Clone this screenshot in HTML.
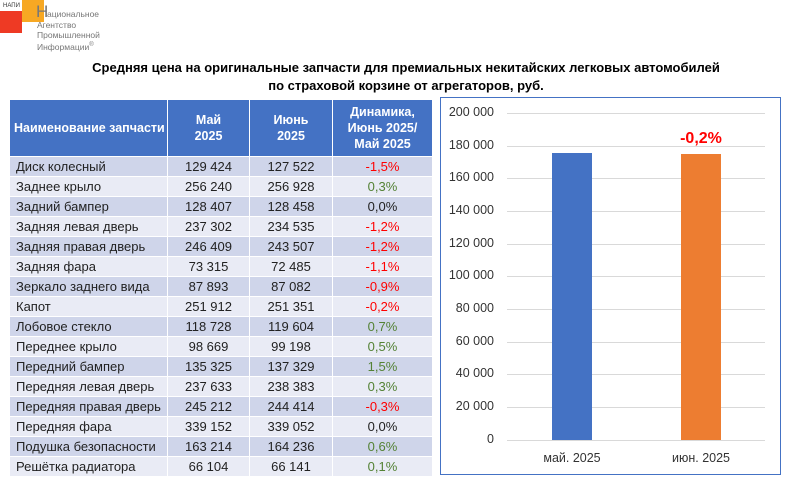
<!DOCTYPE html>
<html><head><meta charset="utf-8"><style>
body{margin:0;width:802px;height:501px;background:#fff;position:relative;overflow:hidden;font-family:"Liberation Sans","DejaVu Sans",sans-serif}
.a{position:absolute}
table{position:absolute;left:9px;top:99px;border-collapse:collapse;font-size:13px;color:#222}
td,th{border:1px solid #fff;padding:0;height:19px}
th{background:#4472c4;color:#fff;font-weight:bold;font-size:12.5px;height:56px;line-height:16px}
td{text-align:center}
td:first-child{text-align:left;padding-left:6px}
tr:nth-child(even) td{background:#cfd5ea}
tr:nth-child(odd) td{background:#e9ebf5}
.r{color:#ff0000}.g{color:#548235}
.yl{position:absolute;width:60px;text-align:right;font-size:12.5px;color:#333;left:434px}
.gl{position:absolute;left:507px;width:258px;height:1px;background:#d9d9d9}
.lg{position:absolute;font-size:8.5px;color:#777;line-height:10px;white-space:nowrap}
</style></head><body>
<div class="a" style="left:22px;top:0;width:22px;height:22px;background:#f7a823"></div>
<div class="a" style="left:0;top:11px;width:22px;height:22px;background:#ee3a24"></div>
<div class="a" style="left:3px;top:3px;font-size:6px;color:#333">НАПИ</div>
<div class="lg" style="left:36px;top:3px;font-size:17px;line-height:17px">Н</div>
<div class="lg" style="left:47px;top:9px">ациональное</div>
<div class="lg" style="left:37px;top:20px">Агентство</div>
<div class="lg" style="left:37px;top:30px">Промышленной</div>
<div class="lg" style="left:37px;top:40px">Информации<sup style="font-size:6px">®</sup></div>
<div class="a" style="left:0;width:812px;top:59px;text-align:center;font-weight:bold;font-size:13px;line-height:18px;color:#000">Средняя цена на оригинальные запчасти для премиальных некитайских легковых автомобилей<br>по страховой корзине от агрегаторов, руб.</div>
<table>
<tr><th style="text-align:left;padding-left:4px;width:153px">Наименование запчасти</th><th style="width:81px">Май<br>2025</th><th style="width:82px">Июнь<br>2025</th><th style="width:99px">Динамика,<br>Июнь 2025/<br>Май 2025</th></tr>
<tr><td>Диск колесный</td><td>129 424</td><td>127 522</td><td class="r">-1,5%</td></tr>
<tr><td>Заднее крыло</td><td>256 240</td><td>256 928</td><td class="g">0,3%</td></tr>
<tr><td>Задний бампер</td><td>128 407</td><td>128 458</td><td>0,0%</td></tr>
<tr><td>Задняя левая дверь</td><td>237 302</td><td>234 535</td><td class="r">-1,2%</td></tr>
<tr><td>Задняя правая дверь</td><td>246 409</td><td>243 507</td><td class="r">-1,2%</td></tr>
<tr><td>Задняя фара</td><td>73 315</td><td>72 485</td><td class="r">-1,1%</td></tr>
<tr><td>Зеркало заднего вида</td><td>87 893</td><td>87 082</td><td class="r">-0,9%</td></tr>
<tr><td>Капот</td><td>251 912</td><td>251 351</td><td class="r">-0,2%</td></tr>
<tr><td>Лобовое стекло</td><td>118 728</td><td>119 604</td><td class="g">0,7%</td></tr>
<tr><td>Переднее крыло</td><td>98 669</td><td>99 198</td><td class="g">0,5%</td></tr>
<tr><td>Передний бампер</td><td>135 325</td><td>137 329</td><td class="g">1,5%</td></tr>
<tr><td>Передняя левая дверь</td><td>237 633</td><td>238 383</td><td class="g">0,3%</td></tr>
<tr><td>Передняя правая дверь</td><td>245 212</td><td>244 414</td><td class="r">-0,3%</td></tr>
<tr><td>Передняя фара</td><td>339 152</td><td>339 052</td><td>0,0%</td></tr>
<tr><td>Подушка безопасности</td><td>163 214</td><td>164 236</td><td class="g">0,6%</td></tr>
<tr><td>Решётка радиатора</td><td>66 104</td><td>66 141</td><td class="g">0,1%</td></tr>
</table>
<div class="a" style="left:440px;top:97px;width:339px;height:376px;border:1px solid #4472c4"></div>
<div class="gl" style="top:113px"></div><div class="gl" style="top:146px"></div><div class="gl" style="top:178px"></div><div class="gl" style="top:211px"></div><div class="gl" style="top:244px"></div><div class="gl" style="top:276px"></div><div class="gl" style="top:309px"></div><div class="gl" style="top:342px"></div><div class="gl" style="top:374px"></div><div class="gl" style="top:407px"></div><div class="gl" style="top:440px"></div>
<div class="yl" style="top:105px">200 000</div><div class="yl" style="top:138px">180 000</div><div class="yl" style="top:170px">160 000</div><div class="yl" style="top:203px">140 000</div><div class="yl" style="top:236px">120 000</div><div class="yl" style="top:268px">100 000</div><div class="yl" style="top:301px">80 000</div><div class="yl" style="top:334px">60 000</div><div class="yl" style="top:366px">40 000</div><div class="yl" style="top:399px">20 000</div><div class="yl" style="top:432px">0</div>
<div class="a" style="left:552px;top:153px;width:40px;height:287px;background:#4472c4"></div>
<div class="a" style="left:681px;top:154px;width:40px;height:286px;background:#ed7d31"></div>
<div class="a" style="left:661px;top:130px;width:80px;text-align:center;color:#ff0000;font-weight:bold;font-size:16px">-0,2%</div>
<div class="a" style="left:522px;top:451px;width:100px;text-align:center;font-size:12.5px;color:#333">май. 2025</div>
<div class="a" style="left:651px;top:451px;width:100px;text-align:center;font-size:12.5px;color:#333">июн. 2025</div>
</body></html>
